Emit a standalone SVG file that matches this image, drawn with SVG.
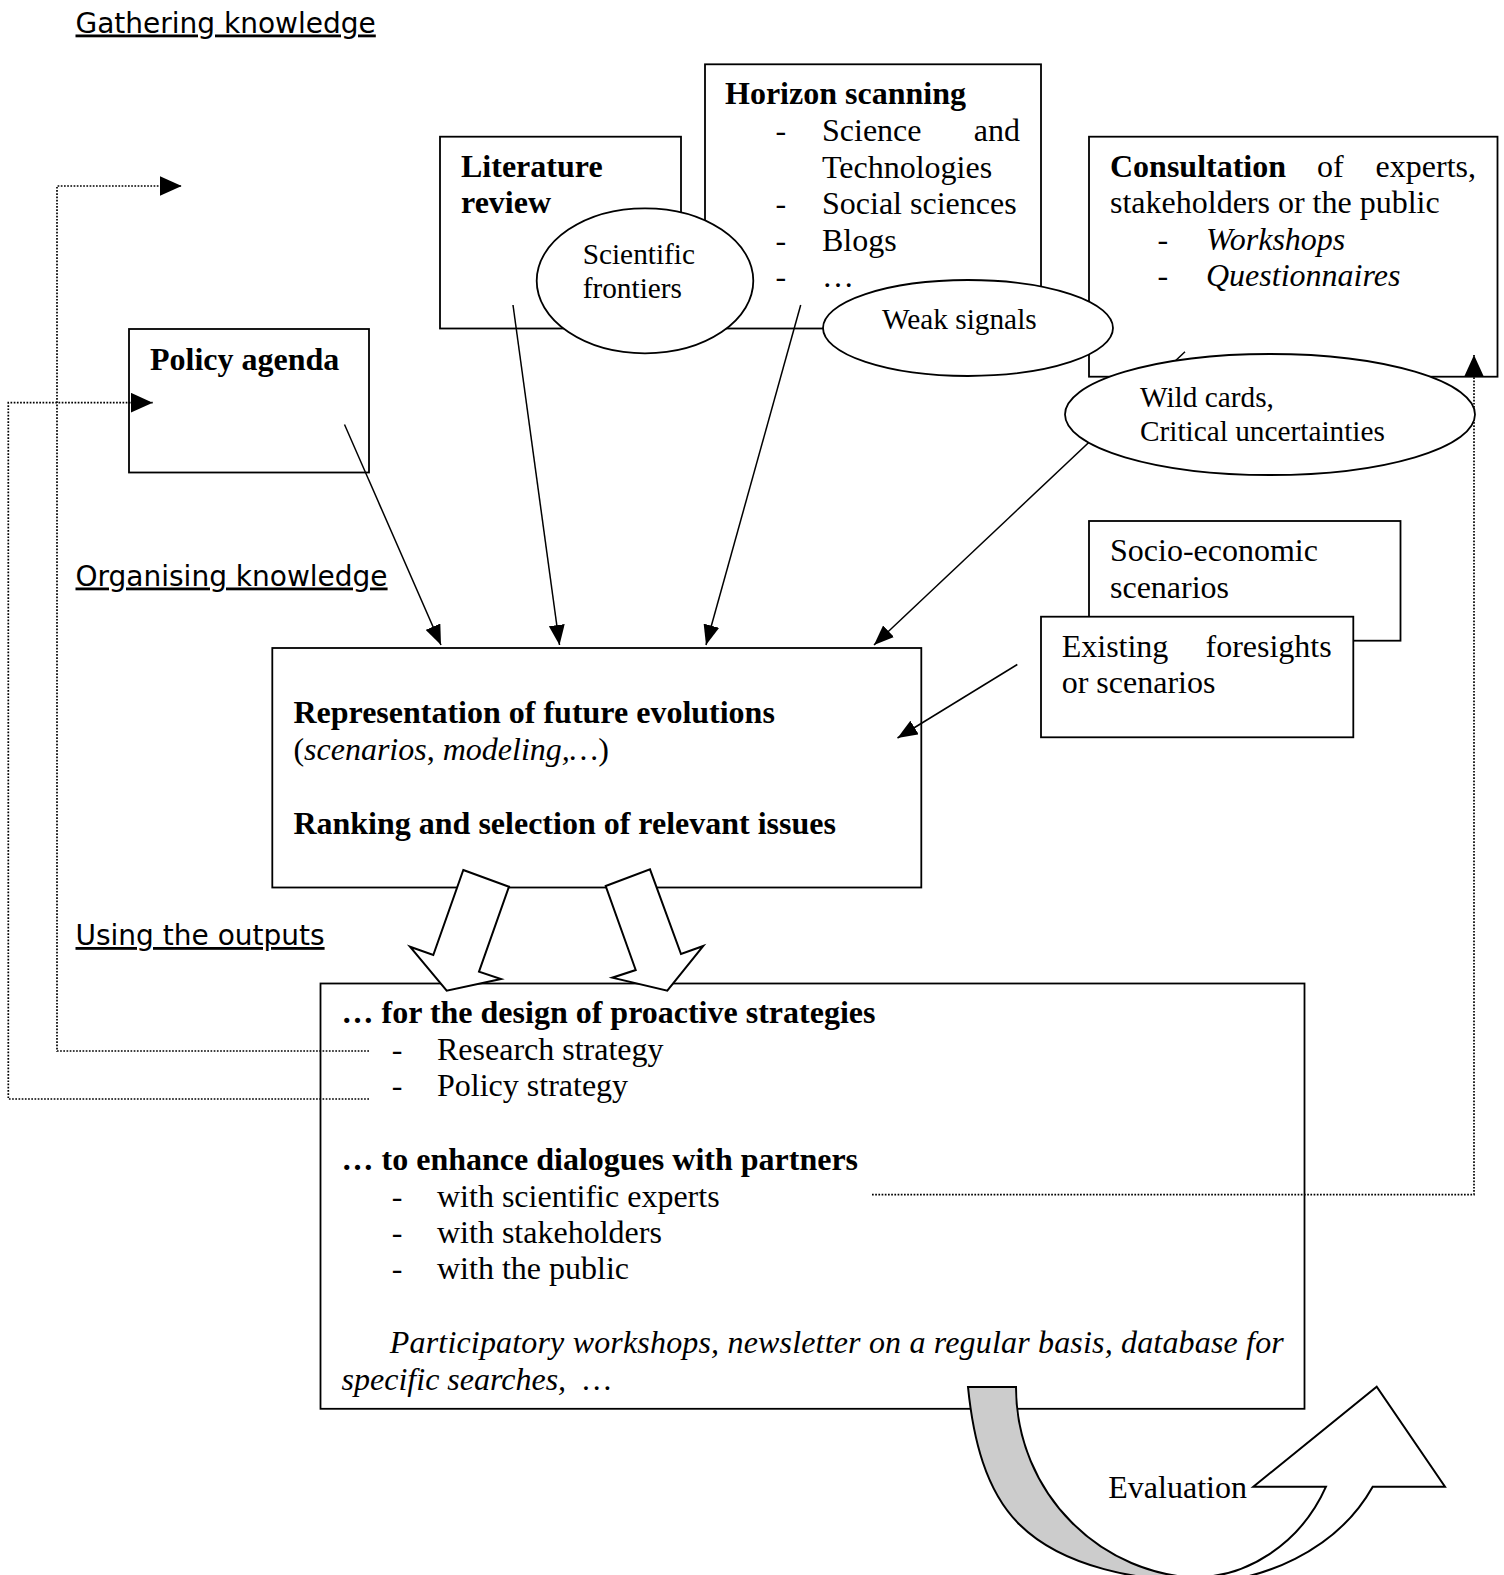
<svg xmlns="http://www.w3.org/2000/svg" width="1504" height="1575" viewBox="0 0 1504 1575">
<defs>
<style>
.box{fill:#fff;stroke:#000;stroke-width:1.8}
.ell{fill:#fff;stroke:#000;stroke-width:1.8}
.t{font-family:"Liberation Serif","Times New Roman",serif;font-size:32px;fill:#000}
.te{font-family:"Liberation Serif","Times New Roman",serif;font-size:29.3px;fill:#000}
.b{font-weight:bold}
.i{font-style:italic}
.h{font-family:"DejaVu Sans",Verdana,sans-serif;font-size:28px;text-decoration:underline;fill:#000}
.con{fill:none;stroke:#000;stroke-width:1.5}
.dot{fill:none;stroke:#000;stroke-width:1.7;stroke-dasharray:1.7 1.5}
.fat{fill:#fff;stroke:#000;stroke-width:2;stroke-linejoin:miter}
.back{fill:#cccccc;stroke:#000;stroke-width:2}
</style>
<marker id="ah" markerUnits="userSpaceOnUse" viewBox="0 0 20 16" refX="20" refY="8" markerWidth="20" markerHeight="16" orient="auto"><path d="M0,0 L20,8 L0,16 Z" fill="#000"/></marker>
<marker id="ahd" markerUnits="userSpaceOnUse" viewBox="0 0 22 20" refX="22" refY="10" markerWidth="22" markerHeight="20" orient="auto"><path d="M0,0 L22,10 L0,20 Z" fill="#000"/></marker>
</defs>
<rect width="1504" height="1575" fill="#fff"/>

<g id="headings">
<text class="h" x="75.5" y="32.5">Gathering knowledge</text>
<text class="h" x="75.5" y="585.5">Organising knowledge</text>
<text class="h" x="75.5" y="945">Using the outputs</text>
</g>

<g id="literature-review">
<rect class="box" x="440" y="136.7" width="241" height="191.8"/>
<text class="t b" x="461" y="176.5">Literature</text>
<text class="t b" x="461" y="213">review</text>
</g>

<g id="horizon-scanning">
<rect class="box" x="705" y="64.3" width="336" height="264.2"/>
<text class="t b" x="725" y="104">Horizon scanning</text>
<text class="t"><tspan x="775.6" y="141">-</tspan><tspan x="822" y="141">Science</tspan><tspan x="1020" y="141" text-anchor="end">and</tspan></text>
<text class="t" x="822" y="177.5">Technologies</text>
<text class="t"><tspan x="775.6" y="214">-</tspan><tspan x="822" y="214">Social sciences</tspan></text>
<text class="t"><tspan x="775.6" y="250.5">-</tspan><tspan x="822" y="250.5">Blogs</tspan></text>
<text class="t"><tspan x="775.6" y="287">-</tspan><tspan x="822" y="287">…</tspan></text>
</g>

<g id="consultation">
<rect class="box" x="1089" y="136.7" width="408.5" height="240"/>
<text class="t"><tspan class="b" x="1110" y="176.5">Consultation</tspan><tspan x="1317" y="176.5">of</tspan><tspan x="1476" y="176.5" text-anchor="end">experts,</tspan></text>
<text class="t" x="1110" y="212.5">stakeholders or the public</text>
<text class="t"><tspan x="1157.5" y="249.5">-</tspan><tspan class="i" x="1206" y="249.5">Workshops</tspan></text>
<text class="t"><tspan x="1157.5" y="286">-</tspan><tspan class="i" x="1206" y="286">Questionnaires</tspan></text>
</g>

<g id="policy-agenda">
<rect class="box" x="129" y="329" width="240" height="143.5"/>
<text class="t b" x="150" y="369.5">Policy agenda</text>
</g>

<g id="socio-economic-scenarios">
<rect class="box" x="1089" y="521" width="311.5" height="119.7"/>
<text class="t" x="1110" y="560.5">Socio-economic</text>
<text class="t" x="1110" y="597.5">scenarios</text>
</g>

<g id="existing-foresights">
<rect class="box" x="1041" y="616.7" width="312.3" height="120.6"/>
<text class="t"><tspan x="1061.7" y="656.5">Existing</tspan><tspan x="1331.7" y="656.5" text-anchor="end">foresights</tspan></text>
<text class="t" x="1061.7" y="693.2">or scenarios</text>
</g>

<g id="representation">
<rect class="box" x="272.3" y="648" width="649" height="239.5"/>
<text class="t b" x="293.4" y="723">Representation of future evolutions</text>
<text class="t" x="293.4" y="760">(<tspan class="i">scenarios</tspan>, <tspan class="i">modeling,…</tspan>)</text>
<text class="t b" x="293.4" y="834">Ranking and selection of relevant issues</text>
</g>

<g id="outputs">
<rect class="box" x="320.5" y="983.5" width="984" height="425.3"/>
<text class="t b" x="341.6" y="1023">… for the design of proactive strategies</text>
<text class="t"><tspan x="391.8" y="1060">-</tspan><tspan x="437" y="1060">Research strategy</tspan></text>
<text class="t"><tspan x="391.8" y="1096">-</tspan><tspan x="437" y="1096">Policy strategy</tspan></text>
<text class="t b" x="341.6" y="1169.5">… to enhance dialogues with partners</text>
<text class="t"><tspan x="391.8" y="1206.5">-</tspan><tspan x="437" y="1206.5">with scientific experts</tspan></text>
<text class="t"><tspan x="391.8" y="1242.8">-</tspan><tspan x="437" y="1242.8">with stakeholders</tspan></text>
<text class="t"><tspan x="391.8" y="1279">-</tspan><tspan x="437" y="1279">with the public</tspan></text>
<text class="t i" x="389.8" y="1353" textLength="894" lengthAdjust="spacing">Participatory workshops, newsletter on a regular basis, database for</text>
<text class="t i" x="341.6" y="1390">specific searches,<tspan x="583">…</tspan></text>
</g>

<g id="connectors">
<path class="dot" d="M369,1051 H57 V186 H181.7" marker-end="url(#ahd)"/>
<path class="dot" d="M369,1099 H8.3 V402.7 H152.7" marker-end="url(#ahd)"/>
<path class="dot" d="M872,1194.6 H1474 V355" marker-end="url(#ahd)"/>
<path class="con" d="M344.5,424.5 L441,645" marker-end="url(#ah)"/>
<path class="con" d="M513,305 L559.5,645" marker-end="url(#ah)"/>
<path class="con" d="M800.7,305 L706,645" marker-end="url(#ah)"/>
<path class="con" d="M1185,351.7 L874,645" marker-end="url(#ah)"/>
<path class="con" d="M1017.3,664.5 L897.5,738" marker-end="url(#ah)"/>
<path class="fat" d="M463.3,870 L509,886.7 L479,971.7 L501,979 L446.7,990.7 L410,946.7 L433.3,955 Z"/>
<path class="fat" d="M605.7,886 L650,869.3 L681,954 L703.3,946 L667.3,990.7 L612.3,977.7 L635.7,970 Z"/>
<path class="back" d="M968,1387 L1016,1387 C1016,1492.5 1100.6,1578 1205,1578 L1200,1581 C1140,1581 1064,1568 1020,1525 C985,1491 973,1437 968,1387 Z"/>
<path class="fat" d="M1253.3,1486.7 L1376.7,1386.7 L1445,1486.7 L1372.7,1486.7 C1336,1552 1260,1582 1200,1582 L1195,1577 C1245,1578 1300,1545 1326,1486.7 Z"/>
</g>

<g id="scientific-frontiers">
<ellipse class="ell" cx="645" cy="280.8" rx="108.3" ry="72.5"/>
<text class="te" x="582.7" y="263.5">Scientific</text>
<text class="te" x="582.7" y="297.5">frontiers</text>
</g>

<g id="weak-signals">
<ellipse class="ell" cx="968" cy="328" rx="145" ry="48"/>
<text class="te" x="882" y="329">Weak signals</text>
</g>

<g id="wild-cards">
<ellipse class="ell" cx="1270" cy="414.5" rx="205" ry="60.5"/>
<text class="te" x="1140" y="407">Wild cards,</text>
<text class="te" x="1140" y="440.5">Critical uncertainties</text>
</g>

<g id="evaluation">
<text class="t" x="1108.3" y="1498">Evaluation</text>
</g>
</svg>
